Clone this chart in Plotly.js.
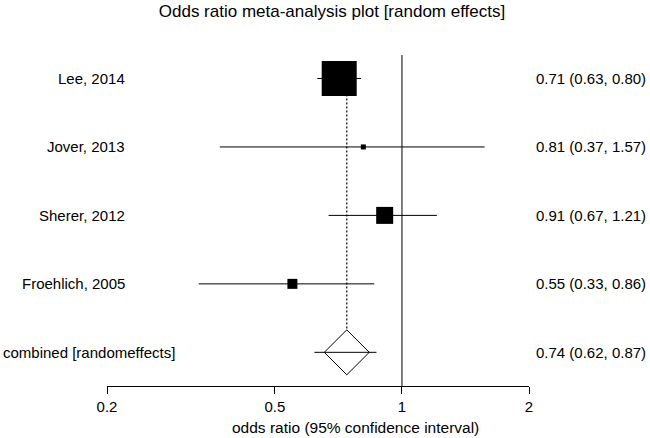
<!DOCTYPE html>
<html>
<head>
<meta charset="utf-8">
<script src="https://cdn.plot.ly/plotly-3.0.1.min.js"></script>
<style>html,body{margin:0;padding:0;background:#fff;}#chart{width:650px;height:438px;}</style>
</head>
<body>
<div id="chart"></div>
<script>
// ---- data ----
const studies = ['Lee, 2014', 'Jover, 2013', 'Sherer, 2012', 'Froehlich, 2005'];
const oddsRatio = [0.71, 0.81, 0.91, 0.55];
const ciLower = [0.63, 0.37, 0.67, 0.33];
const ciUpper = [0.80, 1.57, 1.21, 0.86];
const pooledLabel = 'combined [randomeffects]';
const pooledOR = [0.74];
const pooledLower = [0.62];
const pooledUpper = [0.87];
const nullValue = [1];
const tickValues = [0.2, 0.5, 1, 2];
const tickLabels = ['0.2', '0.5', '1', '2'];
const chartTitle = 'Odds ratio meta-analysis plot [random effects]';
const xTitle = 'odds ratio (95% confidence interval)';

// ---- styles ----
const boxSizes = [35, 5, 17, 10];
const FONT = 'Liberation Sans, Arial, sans-serif';
const fsz = 15;

const n = studies.length;
const rowY = studies.map((s, i) => n - i);
const pooledY = 0;

const wx = [], wy = [];
studies.forEach((s, i) => { wx.push(ciLower[i], ciUpper[i], null); wy.push(rowY[i], rowY[i], null); });

const fmt = (e, l, h) => e.toFixed(2) + ' (' + l.toFixed(2) + ', ' + h.toFixed(2) + ')';

const traces = [
  { // null line
    x: [nullValue[0], nullValue[0]], y: [-5, 10], mode: 'lines',
    line: {color: '#000', width: 1}, hoverinfo: 'skip'
  },
  { // dotted pooled reference
    x: [pooledOR[0], pooledOR[0]], y: [rowY[0], pooledY], mode: 'lines',
    line: {color: '#000', width: 1.2, dash: '2px,2px'}, hoverinfo: 'skip'
  },
  { // whiskers
    x: wx, y: wy, mode: 'lines', line: {color: '#000', width: 1}, hoverinfo: 'skip'
  },
  { // boxes
    x: oddsRatio, y: rowY, mode: 'markers',
    marker: {symbol: 'square', size: boxSizes, color: '#000', opacity: 1, line: {width: 0}}
  },
  { // pooled diamond
    x: pooledOR, y: [pooledY], mode: 'markers',
    marker: {symbol: 'diamond', size: 34.6, color: '#fff', opacity: 1, line: {color: '#000', width: 1}}
  },
  { // pooled CI
    x: [pooledLower[0], pooledUpper[0]], y: [pooledY, pooledY], mode: 'lines',
    line: {color: '#000', width: 1}, hoverinfo: 'skip'
  }
];

const L = 107, R = 121, T = 55, B = 52, W = 650 - L - R, H = 438 - T - B;
const px = p => (p - L) / W;
const py = p => (438 - B - p) / H;

const annotations = [];
studies.forEach((s, i) => {
  annotations.push({xref: 'paper', yref: 'y', x: px(127), y: rowY[i], xanchor: 'right', yanchor: 'middle',
    text: s, showarrow: false, font: {family: FONT, size: fsz, color: '#000'}});
  annotations.push({xref: 'paper', yref: 'y', x: px(534), y: rowY[i], xanchor: 'left', yanchor: 'middle',
    text: fmt(oddsRatio[i], ciLower[i], ciUpper[i]), showarrow: false, font: {family: FONT, size: fsz, color: '#000'}});
});
annotations.push({xref: 'paper', yref: 'y', x: px(1), y: pooledY, xanchor: 'left', yanchor: 'middle',
  text: pooledLabel, showarrow: false, font: {family: FONT, size: fsz, color: '#000'}});
annotations.push({xref: 'paper', yref: 'y', x: px(534), y: pooledY, xanchor: 'left', yanchor: 'middle',
  text: fmt(pooledOR[0], pooledLower[0], pooledUpper[0]), showarrow: false, font: {family: FONT, size: fsz, color: '#000'}});
// x-axis title (placed as in the reference, slightly right of axis centre)
annotations.push({xref: 'paper', yref: 'paper', x: px(355), y: py(427), xanchor: 'center', yanchor: 'middle',
  text: xTitle, showarrow: false, font: {family: FONT, size: 15.5, color: '#000'}});

const layout = {
  width: 650, height: 438,
  margin: {l: L, r: R, t: T, b: B},
  paper_bgcolor: '#fff', plot_bgcolor: '#fff',
  showlegend: false,
  font: {family: FONT, size: fsz, color: '#000'},
  title: {text: chartTitle, font: {family: FONT, size: 17, color: '#000'},
    x: 332 / 650, xanchor: 'center', xref: 'container', y: 1 - 11 / 438, yref: 'container', yanchor: 'middle'},
  xaxis: {
    type: 'log', range: [Math.log10(0.2), Math.log10(2)],
    tickvals: tickValues, ticktext: tickLabels,
    ticks: 'outside', ticklen: 7, tickcolor: '#000', tickwidth: 1,
    showline: true, linecolor: '#000', linewidth: 1, showgrid: false, zeroline: false,
    tickfont: {family: FONT, size: fsz, color: '#000'},
    fixedrange: true, automargin: false
  },
  yaxis: {
    range: [-0.492, 4.343], visible: false, showgrid: false, zeroline: false, fixedrange: true
  },
  annotations: annotations
};

Plotly.newPlot('chart', traces, layout, {staticPlot: true, displayModeBar: false});
</script>
</body>
</html>
